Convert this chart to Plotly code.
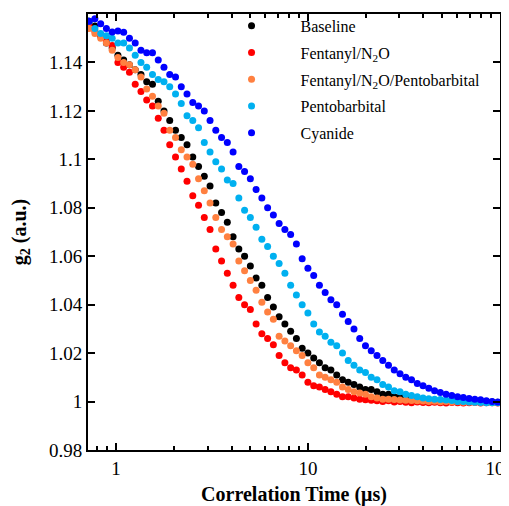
import plotly.graph_objects as go

# Correlation times (microseconds)
tau = [0.724, 0.776, 0.832, 0.891, 0.955, 1.023, 1.096, 1.175, 1.259, 1.349,
       1.445, 1.549, 1.660, 1.778, 1.905, 2.042, 2.188, 2.344, 2.512, 2.692,
       2.884, 3.090, 3.311, 3.548, 3.802, 4.074, 4.365, 4.677, 5.012, 5.370,
       5.754, 6.166, 6.607, 7.079, 7.586, 8.128, 8.710, 9.333, 10.0, 10.72,
       11.48, 12.30, 13.18, 14.13, 15.14, 16.22, 17.38, 18.62, 19.95, 21.38,
       22.91, 24.55, 26.30, 28.18, 30.20, 32.36, 34.67, 37.15, 39.81, 42.66,
       45.71, 48.98, 52.48, 56.23, 60.26, 64.57, 69.18, 74.13, 79.43, 85.11,
       91.20, 97.72]

baseline = [1.157, 1.155, 1.151, 1.148, 1.146, 1.143, 1.141, 1.139, 1.137, 1.135,
            1.132, 1.131, 1.124, 1.120, 1.116, 1.112, 1.109, 1.106, 1.101, 1.097,
            1.093, 1.089, 1.082, 1.078, 1.074, 1.068, 1.063, 1.060, 1.056, 1.051,
            1.048, 1.043, 1.039, 1.035, 1.032, 1.029, 1.026, 1.022, 1.020, 1.018,
            1.016, 1.014, 1.013, 1.011, 1.009, 1.008, 1.007, 1.006, 1.005, 1.005,
            1.004, 1.003, 1.003, 1.002, 1.002, 1.0015, 1.001, 1.001, 1.001, 1.0008,
            1.0005, 1.0005, 1.0003, 1.0002, 1.0, 1.0, 1.0, 1.0, 0.9998, 1.0,
            0.9998, 0.9997]

fentanyl = [1.155, 1.153, 1.151, 1.149, 1.147, 1.140, 1.138, 1.136, 1.131, 1.128,
            1.1245, 1.122, 1.117, 1.112, 1.106, 1.101, 1.096, 1.091, 1.085, 1.081,
            1.076, 1.071, 1.063, 1.058, 1.053, 1.048, 1.043, 1.040, 1.038, 1.032,
            1.028, 1.026, 1.0235, 1.019, 1.016, 1.014, 1.013, 1.011, 1.008, 1.0065,
            1.006, 1.005, 1.004, 1.003, 1.002, 1.002, 1.0015, 1.001, 1.0007, 1.0005,
            1.0003, 1.0, 1.0003, 0.9998, 1.0, 0.9997, 0.9995, 0.9998, 0.9996, 0.9995,
            0.9997, 0.9995, 0.9994, 0.9996, 0.9995, 0.9994, 0.9995, 0.9996, 0.9994, 0.9995,
            0.9995, 0.9994]

fent_pento = [1.154, 1.152, 1.150, 1.148, 1.145, 1.142, 1.140, 1.139, 1.137, 1.134,
              1.129, 1.126, 1.122, 1.119, 1.112, 1.109, 1.104, 1.101, 1.098, 1.092,
              1.087, 1.082, 1.076, 1.071, 1.068, 1.065, 1.058, 1.054, 1.050, 1.046,
              1.041, 1.037, 1.034, 1.027, 1.025, 1.023, 1.021, 1.019, 1.016, 1.014,
              1.011, 1.010, 1.009, 1.008, 1.006, 1.005, 1.004, 1.0035, 1.003, 1.002,
              1.0015, 1.001, 1.001, 1.0008, 1.0006, 1.0005, 1.0004, 1.0003, 1.0002, 1.0,
              1.0001, 0.9999, 1.0, 0.9998, 0.9999, 0.9997, 0.9998, 0.9997, 0.9996, 0.9997,
              0.9996, 0.9996]

pentobarbital = [1.157, 1.154, 1.152, 1.151, 1.150, 1.148, 1.148, 1.146, 1.143, 1.140,
                 1.138, 1.135, 1.133, 1.132, 1.130, 1.127, 1.123, 1.118, 1.116, 1.113,
                 1.107, 1.103, 1.099, 1.096, 1.0915, 1.090, 1.084, 1.079, 1.076, 1.072,
                 1.067, 1.064, 1.060, 1.057, 1.053, 1.048, 1.044, 1.040, 1.0366, 1.032,
                 1.0287, 1.027, 1.0245, 1.023, 1.020, 1.017, 1.015, 1.013, 1.012, 1.010,
                 1.009, 1.007, 1.006, 1.0045, 1.004, 1.003, 1.0025, 1.002, 1.0015, 1.0012,
                 1.001, 1.0008, 1.0006, 1.0004, 1.0, 1.0, 0.9998, 0.9997, 0.9996, 0.9995,
                 0.9995, 0.9995]

cyanide = [1.157, 1.158, 1.156, 1.154, 1.1526, 1.153, 1.1525, 1.150, 1.148, 1.145,
           1.144, 1.144, 1.141, 1.138, 1.135, 1.134, 1.130, 1.127, 1.1235, 1.122,
           1.120, 1.116, 1.112, 1.109, 1.107, 1.103, 1.097, 1.095, 1.092, 1.0875,
           1.084, 1.080, 1.077, 1.0735, 1.071, 1.069, 1.065, 1.059, 1.055, 1.052,
           1.048, 1.045, 1.042, 1.040, 1.036, 1.033, 1.030, 1.026, 1.023, 1.021,
           1.019, 1.017, 1.015, 1.013, 1.0115, 1.010, 1.009, 1.0075, 1.0065, 1.0055,
           1.0045, 1.0037, 1.003, 1.0025, 1.002, 1.0017, 1.0013, 1.001, 1.0007, 1.0003,
           1.0, 0.9998]

series = [
    ("Baseline", baseline, "#000000"),
    ("Fentanyl/N<sub>2</sub>O", fentanyl, "#ff0000"),
    ("Fentanyl/N<sub>2</sub>O/Pentobarbital", fent_pento, "#ff8040"),
    ("Pentobarbital", pentobarbital, "#00b0f0"),
    ("Cyanide", cyanide, "#0000ff"),
]

y_ticks = [0.98, 1.0, 1.02, 1.04, 1.06, 1.08, 1.1, 1.12, 1.14, 1.16]
y_ticktext = ["0.98", "1", "1.02", "1.04", "1.06", "1.08", "1.1", "1.12", "1.14", "1.16"]
x_ticks = [1, 10, 100]
x_ticktext = ["1", "10", "100"]
x_minor = [0.8, 0.9, 2, 3, 4, 5, 6, 7, 8, 9, 20, 30, 40, 50, 60, 70, 80, 90]

fig = go.Figure()
for i, (name, vals, color) in enumerate(series):
    fig.add_trace(go.Scatter(
        x=tau, y=vals, mode="markers", name=name, legendgroup=f"g{i}",
        marker=dict(size=7, color=color, line=dict(width=0)),
    ))

font_family = "Liberation Serif, Times New Roman, serif"

# The page body adds an 8px offset; figure is sized to fit the 509x506 window.
fig.update_layout(
    template="none",
    width=501, height=498,
    margin=dict(l=80, r=9, t=6, b=56, autoexpand=False),
    plot_bgcolor="white", paper_bgcolor="white",
    font=dict(family=font_family, size=19, color="black"),
    showlegend=True,
    legend=dict(
        x=0.278, y=1.012, xanchor="left", yanchor="top",
        bgcolor="rgba(0,0,0,0)", borderwidth=0,
        font=dict(family=font_family, size=16, color="black"),
        tracegroupgap=3, itemwidth=88,
    ),
    xaxis=dict(
        type="log", range=[-0.146, 2.001], automargin=False,
        tickmode="array", tickvals=x_ticks, ticktext=x_ticktext,
        ticklabeloverflow="allow",
        ticks="inside", ticklen=7, tickwidth=2, tickcolor="black",
        minor=dict(tickmode="array", tickvals=x_minor, ticks="inside",
                   ticklen=4, tickwidth=1.5, tickcolor="black", showgrid=False),
        showline=True, linewidth=2, linecolor="black", mirror="ticks",
        showgrid=False, zeroline=False,
        tickfont=dict(family=font_family, size=19),
        title=dict(text="<b>Correlation Time (μs)</b>", standoff=16,
                   font=dict(family=font_family, size=20)),
    ),
    yaxis=dict(
        range=[0.98, 1.16], automargin=False,
        tickmode="array", tickvals=y_ticks, ticktext=y_ticktext,
        ticks="inside", ticklen=7, tickwidth=2, tickcolor="black",
        showline=True, linewidth=2, linecolor="black", mirror="ticks",
        showgrid=False, zeroline=False,
        tickfont=dict(family=font_family, size=19),
        title=dict(text="<b>g<sub>2</sub> (a.u.)</b>", standoff=25,
                   font=dict(family=font_family, size=20)),
    ),
)

fig.write_html("out.html")
